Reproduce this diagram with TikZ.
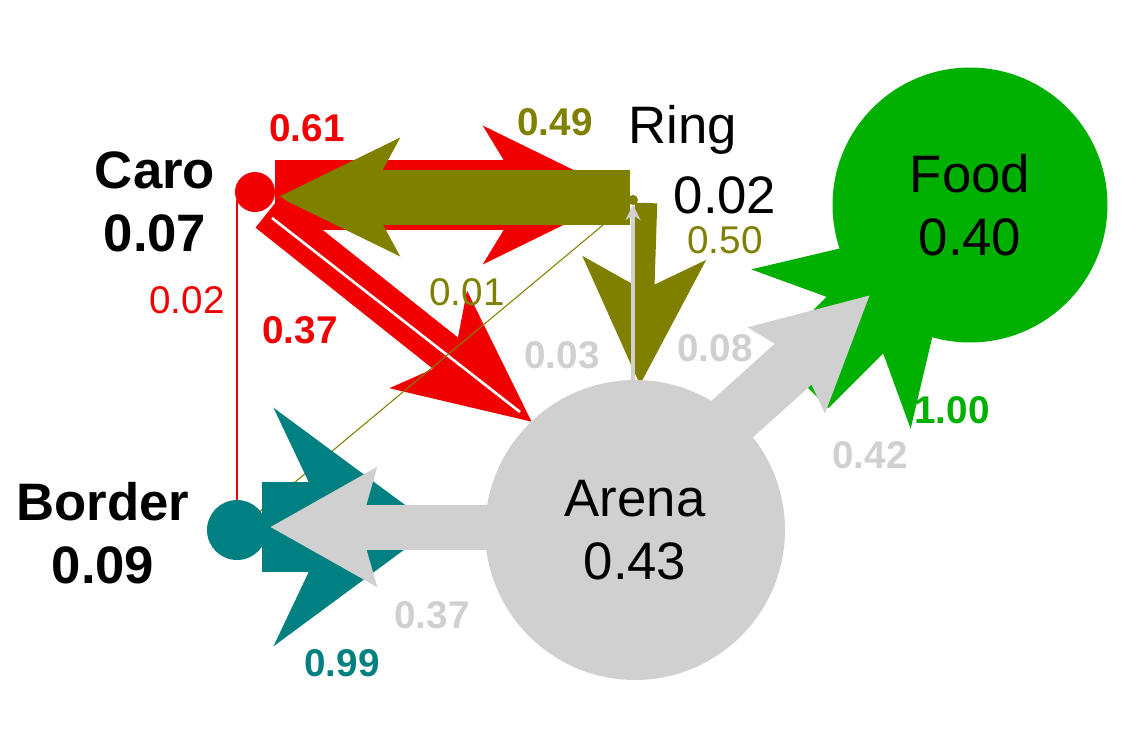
\documentclass[tikz,border=0pt]{standalone}
\usepackage{fontspec}
\setmainfont{Liberation Sans}
\usetikzlibrary{arrows.meta, positioning, calc}
\definecolor{cred}{RGB}{240,0,0}
\definecolor{colive}{RGB}{128,128,0}
\definecolor{cteal}{RGB}{0,128,128}
\definecolor{cgrey}{RGB}{208,208,208}
\definecolor{cgreen}{RGB}{0,176,0}
\begin{document}
\begin{tikzpicture}[x=0.02cm, y=-0.02cm,
    state/.style={circle, inner sep=0pt, align=center, font=\fontsize{30}{36}\selectfont},
    big/.style={font=\fontsize{30}{36}\selectfont},
    bigb/.style={font=\bfseries\fontsize{30}{36}\selectfont},
    lab/.style={font=\fontsize{22}{26}\selectfont},
    labb/.style={font=\bfseries\fontsize{22}{26}\selectfont},
    fat/.style n args={4}{line width=#1cm, -{Stealth[length=#2cm, width=#3cm, inset=#4cm]}}]
  \useasboundingbox (0,0) rectangle (1139,738);

  % states
  \coordinate (caro) at (255,192);
  \coordinate (ring) at (633,200);
  \coordinate (border) at (237,530);
  \coordinate (arena) at (635,530);
  \coordinate (food) at (970,205);

  % transitions
  \draw[cred, fat={1.4}{2.8}{2.7}{0.8}] (275,195) -- (625,195);
  \draw[colive, fat={1.1}{2.4}{2.3}{0.6}] (630,197) -- (278,197);
  \draw[cred, fat={0.8}{2.6}{2.4}{0.6}] (268,212) -- (532,422);
  \draw[white, line width=1.5pt] (272,218) -- (520,412);
  \draw[colive, fat={0.45}{2.5}{2.4}{0.6}] (646,203) -- (640,385);
  \draw[cgrey, line width=2pt, -{Stealth[length=0.3cm,width=0.3cm]}] (633,385) -- (633,205);
  \draw[cred, line width=0.8pt] (237,200) -- (237,505);
  \draw[colive, line width=0.6pt] (615,215) -- (252,518);
  \draw[cgreen, fat={1.6}{3.6}{4.4}{1.0}] (800,380) -- (960,220);
  \draw[cteal, fat={1.8}{3.2}{4.7}{1.1}] (262,527) -- (435,527);
  \node[state, fill=cgreen, minimum size=5.5cm] (foodn) at (food) {Food\\0.40};
  \node[state, fill=cgrey, minimum size=6cm] (arenan) at (arena) {Arena\\0.43};
  \draw[cgrey, fat={1.1}{2.2}{2.2}{0.3}] (720,430) -- (870,295);
  \draw[cgrey, fat={0.9}{2.1}{2.3}{0.3}] (500,527) -- (270,527);
  \node[state, fill=cred, minimum size=0.8cm] (caron) at (caro) {};
  \node[state, fill=cteal, minimum size=1.2cm] (bordern) at (border) {};
  \node[state, fill=colive, minimum size=0.2cm] (ringn) at (ring) {};

  % names
  \node[bigb, align=center] (carol) at (155,202) {Caro\\0.07};
  \node[bigb, align=center] (borderl) at (103,533) {Border\\0.09};
  \node[big] (ringl) at (683,130) {Ring};
  \node[big] (ringv) at (725,195) {0.02};

  % values
  \node[labb, cred] (v1) at (307,128) {0.61};
  \node[labb, colive] (v2) at (555,122) {0.49};
  \node[lab, colive] (v3) at (725,240) {0.50};
  \node[lab, cred] (v4) at (187,300) {0.02};
  \node[labb, cred] (v5) at (300,330) {0.37};
  \node[lab, colive] (v6) at (467,292) {0.01};
  \node[labb, cgrey] (v7) at (562,355) {0.03};
  \node[labb, cgrey] (v8) at (715,348) {0.08};
  \node[labb, cgrey] (v9) at (870,455) {0.42};
  \node[labb, cgreen] (v10) at (952,410) {1.00};
  \node[labb, cgrey] (v11) at (432,615) {0.37};
  \node[labb, cteal] (v12) at (342,663) {0.99};
\end{tikzpicture}
\end{document}
